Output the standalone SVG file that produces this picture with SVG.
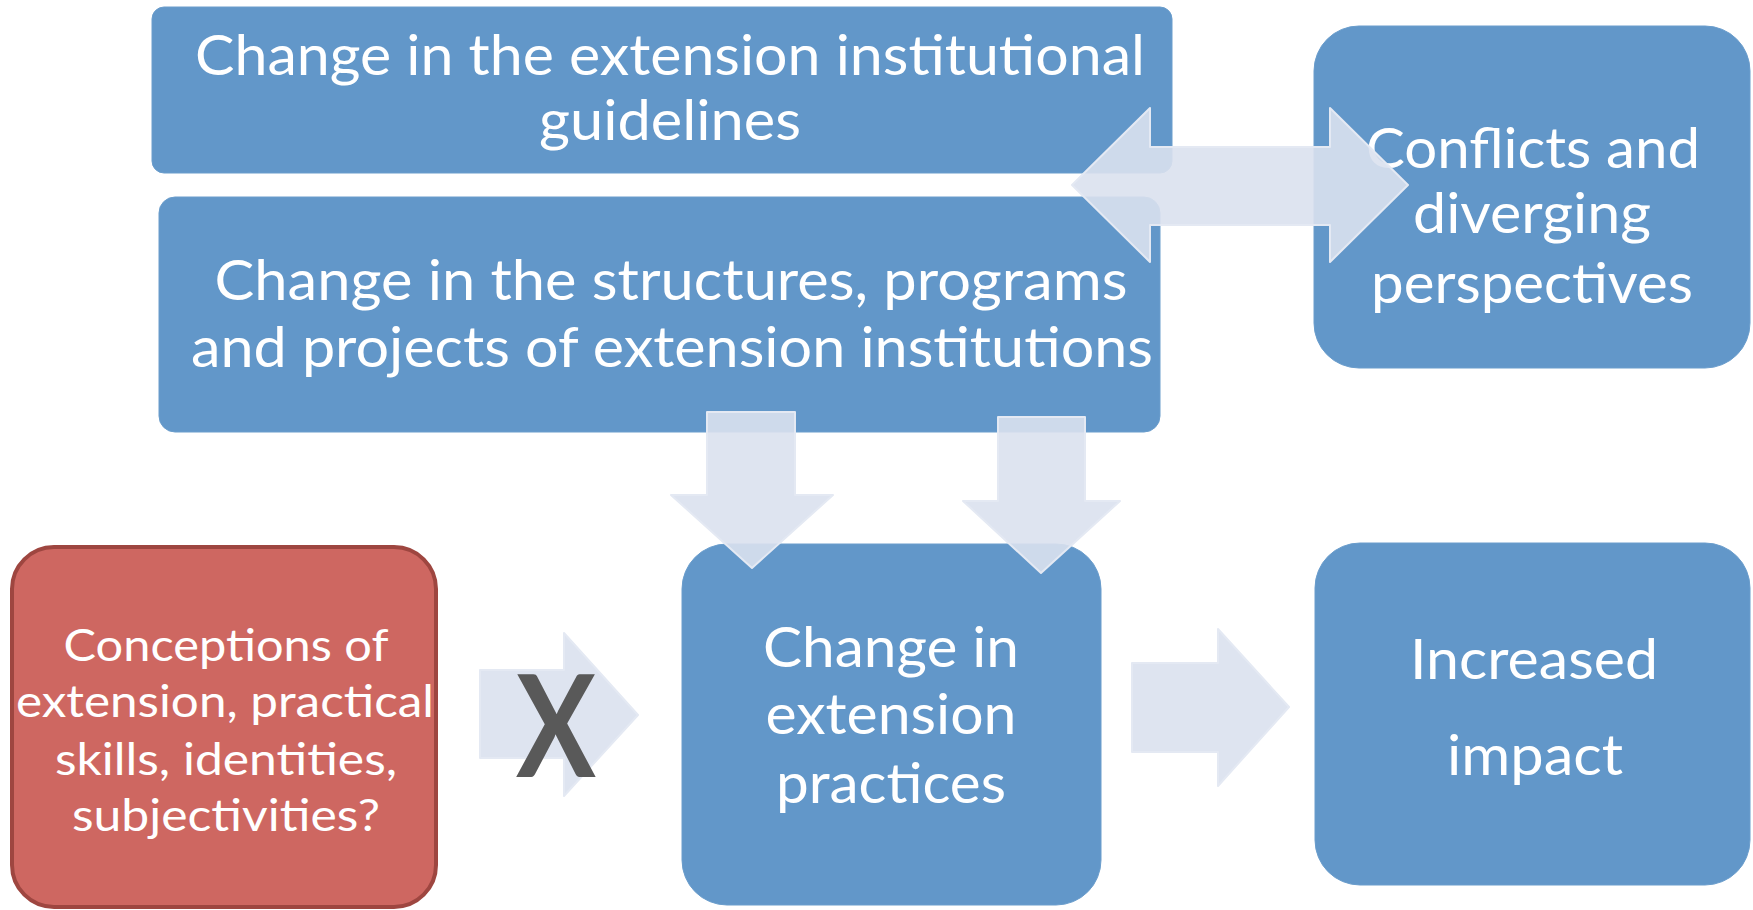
<svg xmlns="http://www.w3.org/2000/svg" width="1753" height="910" viewBox="0 0 1753 910">
<style>
.box{fill:#6297c9;stroke:#6a9dcc;stroke-width:1}
.red{fill:#ce6761;stroke:#9e4640;stroke-width:4}
.t{font-family:Lato,"Open Sans","Liberation Sans",sans-serif;fill:#ffffff;text-anchor:middle;font-size:57px}
.ts{font-size:45px}
.arr{fill:#dae1ee;fill-opacity:0.9;stroke:#e4e9f3;stroke-width:2;stroke-linejoin:round}
</style>
<rect width="1753" height="910" fill="#ffffff"/>
<g id="node-guidelines">
<rect class="box" x="152" y="7" width="1020" height="166" rx="12"/>
<text class="t" x="670" y="75" textLength="950" lengthAdjust="spacingAndGlyphs">Change in the extension institutional</text>
<text class="t" x="670" y="140" textLength="262" lengthAdjust="spacingAndGlyphs">guidelines</text>
</g>
<g id="node-structures">
<rect class="box" x="159" y="197" width="1001" height="235" rx="16"/>
<text class="t" x="671" y="300" textLength="913" lengthAdjust="spacingAndGlyphs">Change in the structures, programs</text>
<text class="t" x="672" y="367" textLength="962" lengthAdjust="spacingAndGlyphs">and projects of extension institutions</text>
</g>
<g id="node-conflicts">
<rect class="box" x="1314" y="26" width="436" height="342" rx="45"/>
<text class="t" x="1533" y="168" textLength="334" lengthAdjust="spacingAndGlyphs">Conflicts and</text>
<text class="t" x="1532" y="233" textLength="238" lengthAdjust="spacingAndGlyphs">diverging</text>
<text class="t" x="1532" y="303" textLength="322" lengthAdjust="spacingAndGlyphs">perspectives</text>
</g>
<g id="node-conceptions">
<rect class="red" x="12" y="547" width="424" height="360" rx="42"/>
<text class="t ts" x="226" y="661" textLength="325" lengthAdjust="spacingAndGlyphs">Conceptions of</text>
<text class="t ts" x="225" y="717" textLength="418" lengthAdjust="spacingAndGlyphs">extension, practical</text>
<text class="t ts" x="226" y="775" textLength="342" lengthAdjust="spacingAndGlyphs">skills, identities,</text>
<text class="t ts" x="226" y="831" textLength="308" lengthAdjust="spacingAndGlyphs">subjectivities?</text>
</g>
<g id="node-practices">
<rect class="box" x="682" y="544" width="419" height="361" rx="45"/>
<text class="t" x="891" y="667" textLength="256" lengthAdjust="spacingAndGlyphs">Change in</text>
<text class="t" x="891" y="734" textLength="251" lengthAdjust="spacingAndGlyphs">extension</text>
<text class="t" x="891" y="803" textLength="230" lengthAdjust="spacingAndGlyphs">practices</text>
</g>
<g id="node-impact">
<rect class="box" x="1315" y="543" width="435" height="342" rx="45"/>
<text class="t" x="1534" y="679" textLength="248" lengthAdjust="spacingAndGlyphs">Increased</text>
<text class="t" x="1535" y="775" textLength="176" lengthAdjust="spacingAndGlyphs">impact</text>
</g>
<g id="connectors">
<path class="arr" d="M1072,185 L1150,108 L1150,147 L1330,147 L1330,108 L1408,185 L1330,262 L1330,225 L1150,225 L1150,262 Z"/>
<path class="arr" d="M707,412 L795,412 L795,495 L833,495 L752,568 L671,495 L707,495 Z"/>
<path class="arr" d="M998,417 L1085,417 L1085,501 L1120,501 L1041,573 L963,501 L998,501 Z"/>
<path class="arr" d="M480,670 L564,670 L564,633 L638,715 L564,796 L564,758 L480,758 Z"/>
<path class="arr" d="M1132,663 L1218,663 L1218,629 L1289,707 L1218,786 L1218,752 L1132,752 Z"/>
<text x="556" y="777" font-family="Lato,'Open Sans','Liberation Sans',sans-serif" font-size="141" font-weight="bold" fill="#595959" text-anchor="middle" textLength="80" lengthAdjust="spacingAndGlyphs">X</text>
</g>
</svg>
